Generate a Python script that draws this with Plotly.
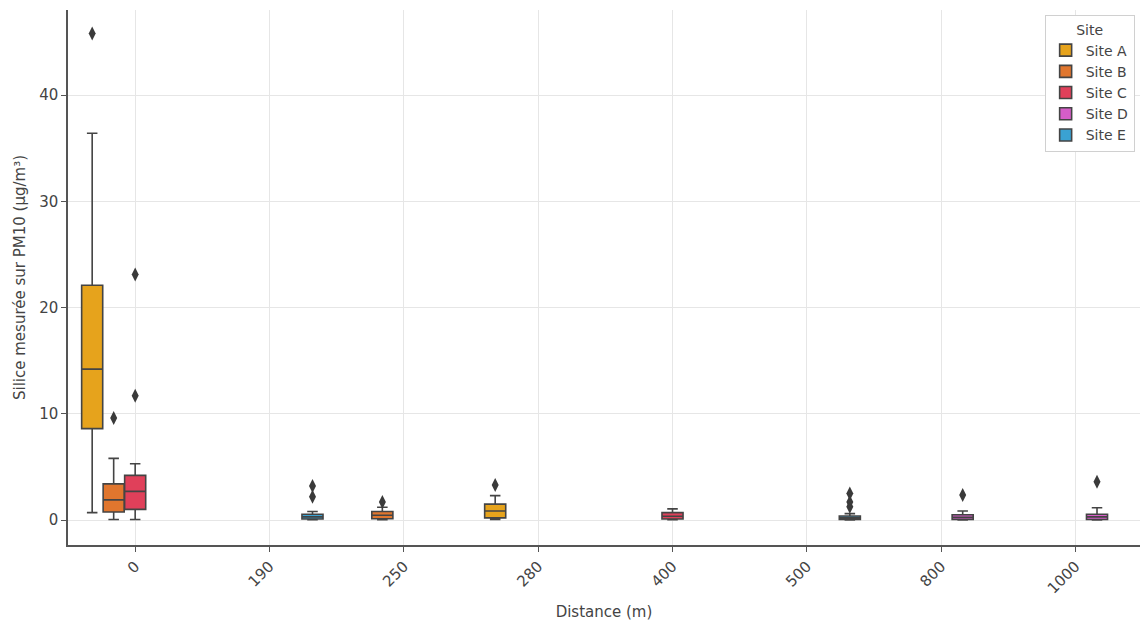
import plotly.graph_objects as go

distances = ['0', '190', '250', '280', '400', '500', '800', '1000']
sites = ['Site A', 'Site B', 'Site C', 'Site D', 'Site E']
colors = ['#E6A31C', '#E0762E', '#E0405A', '#D65DC8', '#3AA2D2']

# precomputed box statistics per site
site_a_x = ['0', '280']
site_a_q1 = [8.6, 0.2]
site_a_median = [14.2, 0.85]
site_a_q3 = [22.1, 1.5]
site_a_low = [0.7, 0.05]
site_a_high = [36.4, 2.3]
site_a_out_x = ['0', '280']
site_a_out_y = [45.8, 3.3]

site_b_x = ['0', '250']
site_b_q1 = [0.75, 0.12]
site_b_median = [1.9, 0.45]
site_b_q3 = [3.4, 0.8]
site_b_low = [0.05, 0.02]
site_b_high = [5.8, 1.2]
site_b_out_x = ['0', '250']
site_b_out_y = [9.6, 1.7]

site_c_x = ['0', '400']
site_c_q1 = [1.0, 0.1]
site_c_median = [2.7, 0.35]
site_c_q3 = [4.2, 0.7]
site_c_low = [0.05, 0.02]
site_c_high = [5.3, 1.05]
site_c_out_x = ['0', '0']
site_c_out_y = [11.7, 23.1]

site_d_x = ['800', '1000']
site_d_q1 = [0.05, 0.05]
site_d_median = [0.25, 0.3]
site_d_q3 = [0.5, 0.55]
site_d_low = [0.0, 0.0]
site_d_high = [0.85, 1.15]
site_d_out_x = ['800', '1000']
site_d_out_y = [2.35, 3.6]

site_e_x = ['190', '500']
site_e_q1 = [0.1, 0.05]
site_e_median = [0.3, 0.2]
site_e_q3 = [0.55, 0.38]
site_e_low = [0.02, 0.0]
site_e_high = [0.8, 0.6]
site_e_out_x = ['190', '190', '500', '500', '500']
site_e_out_y = [3.2, 2.2, 2.5, 1.7, 1.25]

stats = [
    (site_a_x, site_a_q1, site_a_median, site_a_q3, site_a_low, site_a_high, site_a_out_x, site_a_out_y),
    (site_b_x, site_b_q1, site_b_median, site_b_q3, site_b_low, site_b_high, site_b_out_x, site_b_out_y),
    (site_c_x, site_c_q1, site_c_median, site_c_q3, site_c_low, site_c_high, site_c_out_x, site_c_out_y),
    (site_d_x, site_d_q1, site_d_median, site_d_q3, site_d_low, site_d_high, site_d_out_x, site_d_out_y),
    (site_e_x, site_e_q1, site_e_median, site_e_q3, site_e_low, site_e_high, site_e_out_x, site_e_out_y),
]

outline = '#444444'
fig = go.Figure()
for name, col, (x, q1, med, q3, lo, hi, ox, oy) in zip(sites, colors, stats):
    fig.add_trace(go.Box(
        name=name, x=x, q1=q1, median=med, q3=q3, lowerfence=lo, upperfence=hi,
        offsetgroup=name, fillcolor=col, line=dict(color=outline, width=1.6),
        boxpoints=False, whiskerwidth=0.5, hoverinfo='skip'))
    fig.add_trace(go.Box(
        name=name, x=ox, y=oy, offsetgroup=name, showlegend=False,
        fillcolor='rgba(0,0,0,0)', line=dict(color='rgba(0,0,0,0)', width=0),
        boxpoints='all', jitter=0, pointpos=0,
        marker=dict(symbol='diamond-tall', size=10, color='#3a3a3a'),
        hoverinfo='skip'))

font_col = '#444444'
fig.update_layout(
    width=1140, height=627,
    margin=dict(l=68, r=0, t=10, b=82),
    paper_bgcolor='white', plot_bgcolor='white',
    boxmode='group', boxgap=0.2, boxgroupgap=0.02,
    font=dict(family='DejaVu Sans', size=15, color=font_col),
    legend=dict(
        title=dict(text='Site', side='top center', font=dict(size=14)),
        x=0.995, y=0.99, xanchor='right', yanchor='top',
        bgcolor='white', bordercolor='#d0d0d0', borderwidth=1,
        font=dict(size=14), tracegroupgap=0),
    xaxis=dict(
        type='category', categoryorder='array', categoryarray=distances,
        range=[-0.5, 7.48], tickangle=-45,
        title=dict(text='Distance (m)', font=dict(size=15), standoff=10),
        showgrid=True, gridcolor='#e6e6e6', gridwidth=1,
        showline=True, linecolor='#555555', linewidth=1.5,
        ticks='outside', ticklen=5, tickcolor='#555555', zeroline=False),
    yaxis=dict(
        range=[-2.35, 48], tickvals=[0, 10, 20, 30, 40],
        title=dict(text='Silice mesurée sur PM10 (µg/m³)', font=dict(size=15), standoff=10),
        showgrid=True, gridcolor='#e6e6e6', gridwidth=1,
        showline=True, linecolor='#555555', linewidth=1.5,
        ticks='outside', ticklen=5, tickcolor='#555555', zeroline=False),
)

fig.write_html('out.html')
